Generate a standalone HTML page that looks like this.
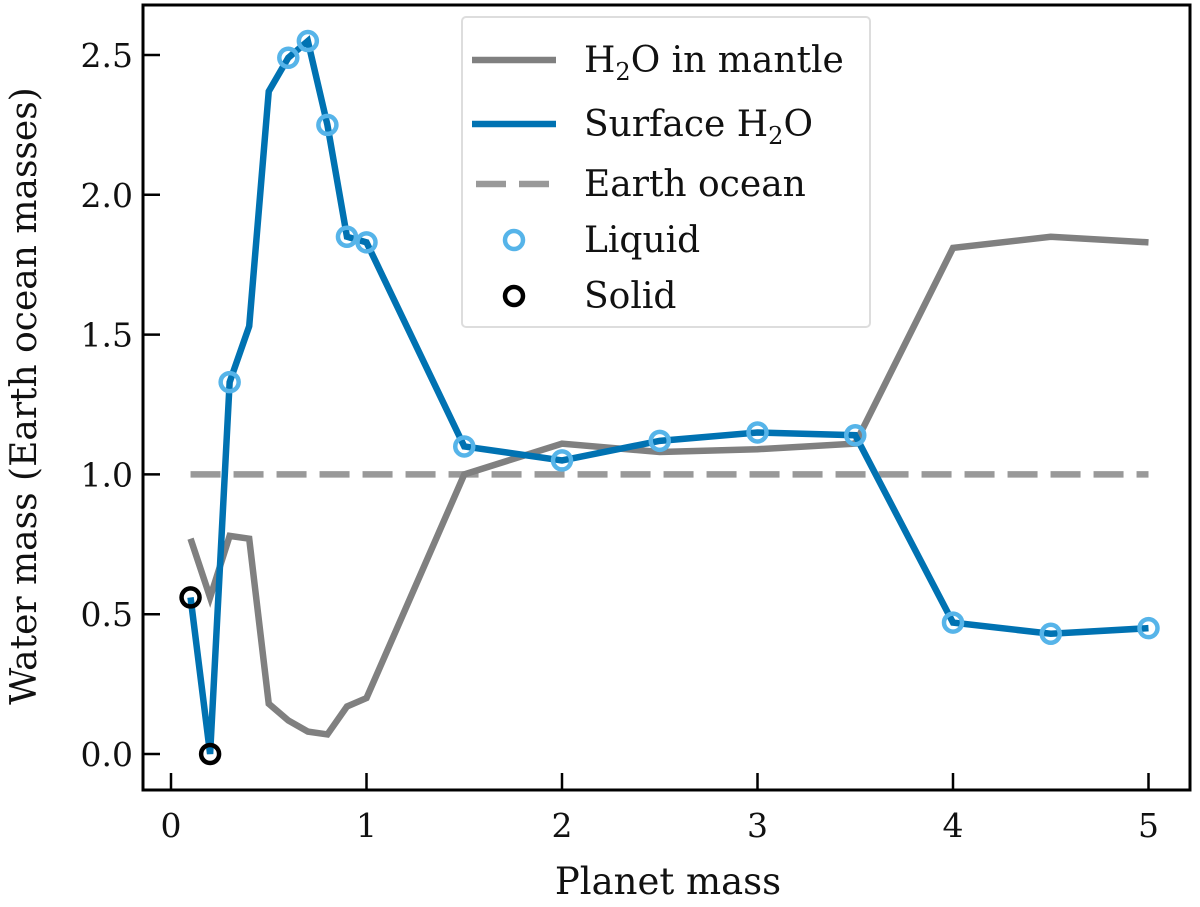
<!DOCTYPE html>
<html><head><meta charset="utf-8"><style>
body{margin:0;background:#fff}
svg text{font-family:"DejaVu Serif","Liberation Serif",serif;fill:#111}
</style></head><body>
<svg id="chart" width="1200" height="902" viewBox="0 0 1200 902">
<g id="plot"></g>
</svg>
<script>
const xs=[0.1,0.2,0.3,0.4,0.5,0.6,0.7,0.8,0.9,1.0,1.5,2.0,2.5,3.0,3.5,4.0,4.5,5.0];
const surface=[0.56,0.0,1.33,1.53,2.37,2.49,2.55,2.25,1.85,1.83,1.10,1.05,1.12,1.15,1.14,0.47,0.43,0.45];
const mantle=[0.77,0.56,0.78,0.77,0.18,0.12,0.08,0.07,0.17,0.20,1.0,1.11,1.08,1.09,1.11,1.81,1.85,1.83];
const liquidIdx=[2,5,6,7,8,9,10,11,12,13,14,15,16,17];
const solidIdx=[0,1];
const earthOcean=1.0;
const xTicks=[0,1,2,3,4,5];
const yTicks=[0,0.5,1.0,1.5,2.0,2.5];
const yTickLabels=["0.0","0.5","1.0","1.5","2.0","2.5"];

const NS="http://www.w3.org/2000/svg";
const svg=document.getElementById('chart');
const L=143,R=1190,T=5,B=790;
const X=v=>171+195.5*v;
const Y=v=>754-279.6*v;
function mk(tag,at,parent){const e=document.createElementNS(NS,tag);for(const k in at)e.setAttribute(k,at[k]);(parent||svg).appendChild(e);return e;}

const dash=mk('line',{x1:X(xs[0]),x2:X(xs[xs.length-1]),y1:Y(earthOcean),y2:Y(earthOcean),stroke:'#999','stroke-width':6.5,'stroke-dasharray':'30 13'});


const pm=mk('polyline',{points:xs.map((x,i)=>X(x)+','+Y(mantle[i])).join(' '),fill:'none',stroke:'#808080','stroke-width':6.5});


const ps=mk('polyline',{points:xs.map((x,i)=>X(x)+','+Y(surface[i])).join(' '),fill:'none',stroke:'#0072b2','stroke-width':6.5});


liquidIdx.forEach(i=>{const c=mk('circle',{cx:X(xs[i]),cy:Y(surface[i]),r:9,fill:'none',stroke:'#56b4e9','stroke-width':4.5});

});
solidIdx.forEach(i=>{const c=mk('circle',{cx:X(xs[i]),cy:Y(surface[i]),r:9,fill:'none',stroke:'#000','stroke-width':4.5});

});

const fr=mk('rect',{x:L,y:T,width:R-L,height:B-T,fill:'none',stroke:'#000','stroke-width':3});


xTicks.forEach(t=>{const l=mk('line',{x1:X(t),x2:X(t),y1:B,y2:B-17,stroke:'#000','stroke-width':2.5});


const tx=mk('text',{x:X(t),y:B+47,'text-anchor':'middle','font-size':33});tx.textContent=t;

});
yTicks.forEach((t,i)=>{const l=mk('line',{x1:L,x2:L+17,y1:Y(t),y2:Y(t),stroke:'#000','stroke-width':2.5});


const tx=mk('text',{x:L-10,y:Y(t)+12,'text-anchor':'end','font-size':33});tx.textContent=yTickLabels[i];

});
const xl=mk('text',{x:668,y:894,'text-anchor':'middle','font-size':37});xl.textContent='Planet mass';


const yl=mk('text',{x:0,y:0,'text-anchor':'middle','font-size':36,transform:'translate(36,396) rotate(-90)'});yl.textContent='Water mass (Earth ocean masses)';


</script>
<svg width="1200" height="902" style="position:absolute;left:0;top:0">
<rect x="462" y="17" width="408" height="310" rx="4" fill="#fff" stroke="#ddd" stroke-width="2"/>
<g font-size="36" style="font-family:'DejaVu Serif','Liberation Serif',serif">
<line x1="472" x2="556" y1="60" y2="60" stroke="#808080" stroke-width="6.5"/>
<text x="584" y="72">H<tspan font-size="24" dy="8">2</tspan><tspan dy="-8">O in mantle</tspan></text>
<line x1="472" x2="556" y1="124" y2="124" stroke="#0072b2" stroke-width="6.5"/>
<text x="584" y="136">Surface H<tspan font-size="24" dy="8">2</tspan><tspan dy="-8">O</tspan></text>
<line x1="476" x2="552" y1="184" y2="184" stroke="#999" stroke-width="6.5" stroke-dasharray="30 13"/>
<text x="584" y="196">Earth ocean</text>
<circle cx="514" cy="240" r="9" fill="none" stroke="#56b4e9" stroke-width="4.5"/>
<text x="584" y="252">Liquid</text>
<circle cx="514" cy="296" r="9" fill="none" stroke="#000" stroke-width="4.5"/>
<text x="584" y="308">Solid</text>
</g></svg>
</body></html>
